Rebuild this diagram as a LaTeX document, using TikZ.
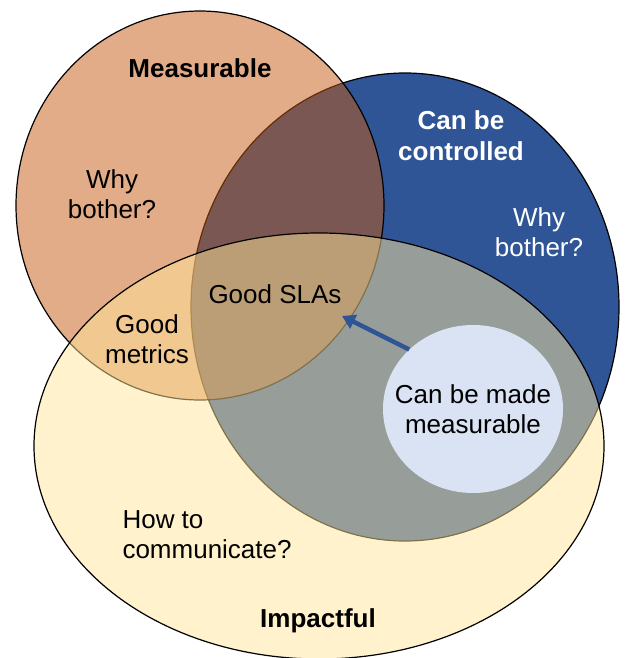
\documentclass[tikz,border=0pt]{standalone}
\usepackage{fontspec}
\setmainfont{Liberation Sans}
\usetikzlibrary{shapes.geometric, arrows.meta, positioning}

\definecolor{ctrlblue}{HTML}{2F5597}
\definecolor{measorange}{HTML}{C55A11}
\definecolor{impactgold}{HTML}{FFE599}
\definecolor{madeblue}{HTML}{DAE3F3}

\begin{document}
\begin{tikzpicture}[
    x=1pt, y=-1pt,
    set/.style={draw=black, line width=1.2pt},
    txt/.style={align=center, font=\fontsize{26}{30}\selectfont},
    heading/.style={align=center, font=\fontsize{26}{31}\selectfont\bfseries}
]
    \useasboundingbox (0,0) rectangle (625,658);

    % the three sets, blue one opaque underneath
    \draw[set, fill=ctrlblue] (405,307) ellipse [x radius=214, y radius=234];
    \draw[set, fill=measorange, fill opacity=0.5] (200,205.5) ellipse [x radius=184, y radius=194.5];
    \draw[set, fill=impactgold, fill opacity=0.5] (319,446) ellipse [x radius=285, y radius=213];

    \node[ellipse, fill=madeblue, inner sep=0pt, minimum width=180pt, minimum height=168pt] (made) at (473,409) {};
    \node[txt] (madetxt) at (made) {Can be made\\measurable};

    \node[heading] (measurable) at (200,68) {Measurable};
    \node[txt] (whymeas) at (112,194) {Why\\bother?};
    \node[heading, text=white] (controlled) at (461,136) {Can be\\controlled};
    \node[txt, text=white] (whyctrl) at (539,232) {Why\\bother?};
    \node[txt] (slas) at (275,294) {Good SLAs};
    \node[txt] (metrics) at (147,339) {Good\\metrics};
    \node[txt, align=left, anchor=west] (communicate) at (119,535) {How to\\communicate?};
    \node[heading] (impactful) at (318,621) {Impactful};

    \coordinate (tip) at (342,316);
    \draw[-{Triangle[length=13pt, width=15pt]}, ctrlblue, line width=4.5pt] (made.137) -- (tip);
\end{tikzpicture}
\end{document}
